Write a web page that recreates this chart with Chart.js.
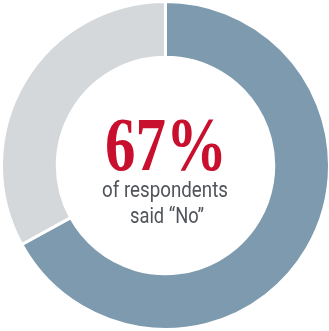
<!DOCTYPE html>
<html><head><meta charset="utf-8">
<script src="https://cdn.jsdelivr.net/npm/chart.js@4/dist/chart.umd.min.js"></script>
<style>html,body{margin:0;padding:0;background:#fff;overflow:hidden}#wrap{width:329px;height:331px;position:relative;overflow:hidden}</style>
</head><body><div id="wrap"><canvas id="c" width="331" height="331"></canvas></div>
<script>
const categories = ["No", "Yes/Other"];
const values = [67, 33];
const colors = ["#7d9aae", "#d5d8da"];
const bigLabel = "67%";
const subLines = ["of respondents", "said \u201cNo\u201d"];

function fitText(ctx, text, x, y, targetW) {
  const w = ctx.measureText(text).width;
  ctx.save();
  ctx.translate(x, y);
  ctx.scale(targetW / w, 1);
  ctx.fillText(text, 0, 0);
  ctx.restore();
}

const centerText = {
  id: 'centerText',
  afterDraw(chart) {
    const ctx = chart.ctx;
    const meta = chart.getDatasetMeta(0).data[0];
    const cx = meta.x, cy = meta.y;
    ctx.save();
    ctx.textAlign = 'center';
    ctx.textBaseline = 'alphabetic';
    ctx.fillStyle = '#c8102e';
    ctx.font = 'bold 77px "Liberation Serif", "DejaVu Serif", serif';
    fitText(ctx, bigLabel, cx + 0.5, cy + 4.5, 122);
    ctx.fillStyle = '#50545a';
    ctx.font = '22px "Roboto", "Liberation Sans", sans-serif';
    fitText(ctx, subLines[0], cx - 0.5, cy + 31, 126);
    fitText(ctx, subLines[1], cx + 1.5, cy + 57, 74);
    ctx.restore();
  }
};

new Chart(document.getElementById('c'), {
  type: 'doughnut',
  data: {
    labels: categories,
    datasets: [{ data: values, backgroundColor: colors, borderColor: '#ffffff', borderWidth: 3 }]
  },
  options: {
    responsive: false,
    animation: false,
    cutout: '66%',
    plugins: { legend: { display: false }, tooltip: { enabled: false } },
    layout: { padding: 0 }
  },
  plugins: [centerText]
});
</script></body></html>
